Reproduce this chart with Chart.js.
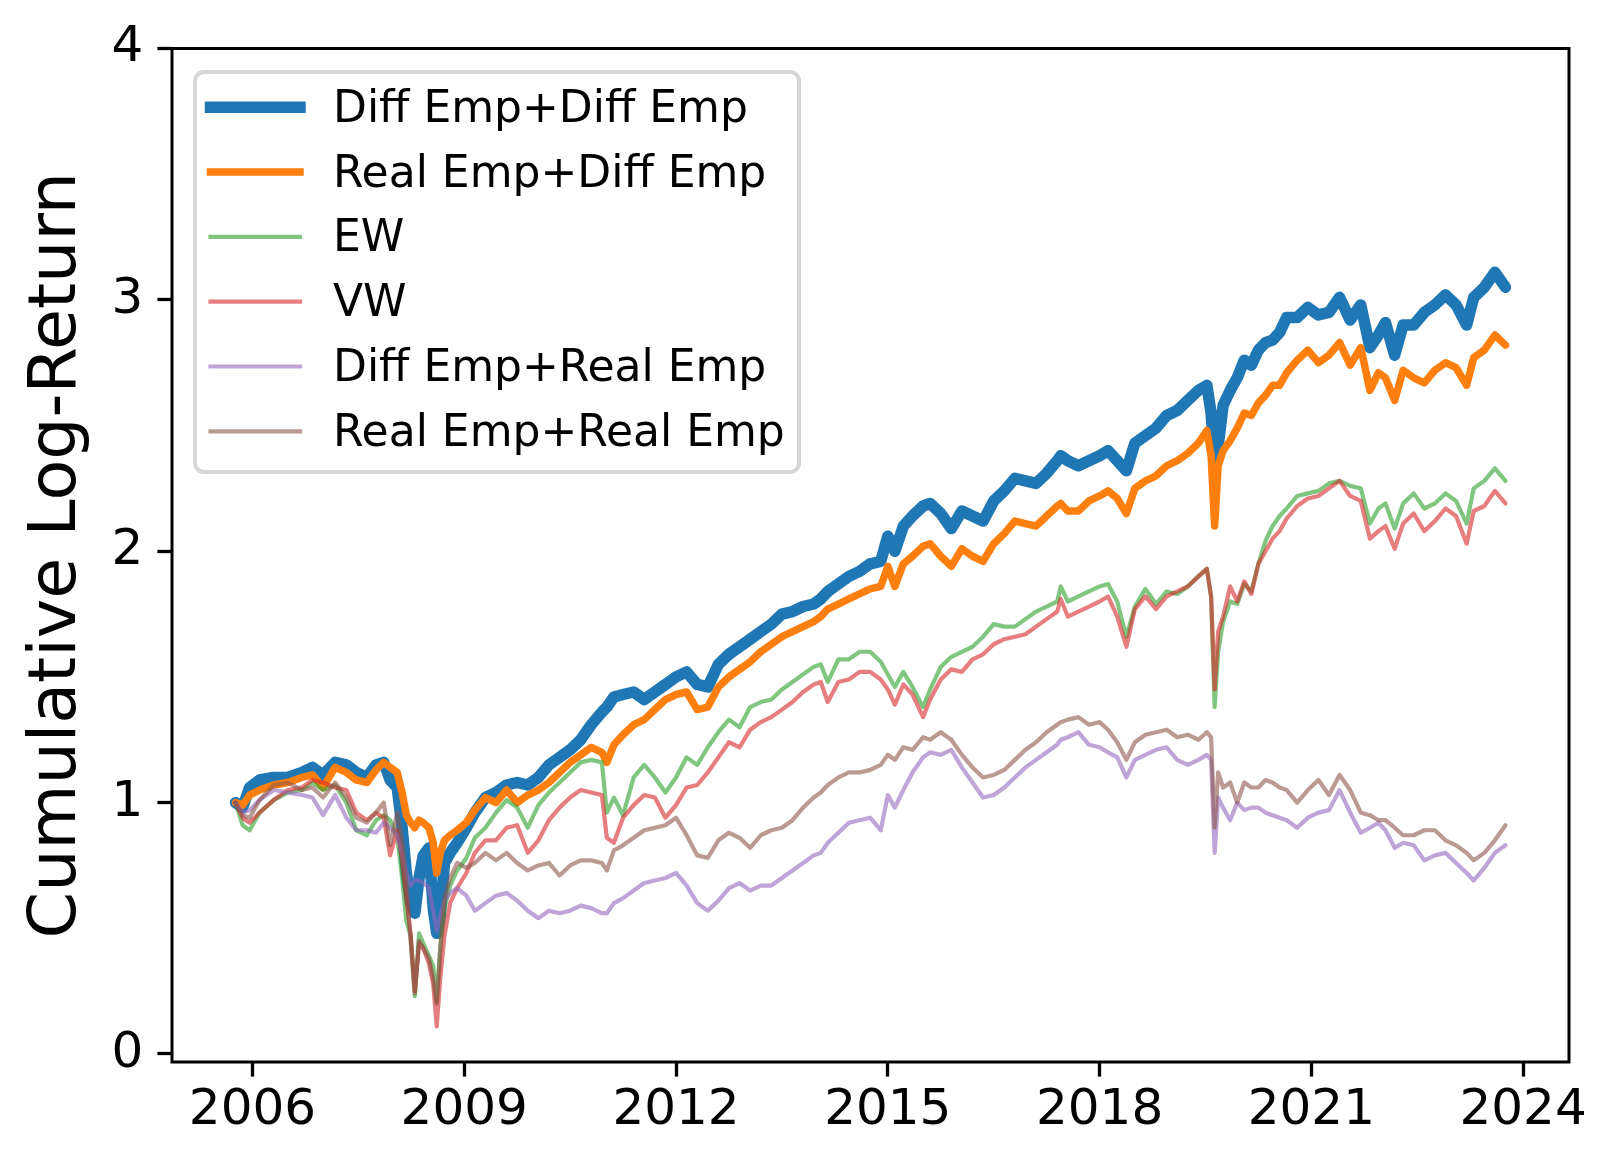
<!DOCTYPE html>
<html><head><meta charset="utf-8">
<script src="https://cdn.jsdelivr.net/npm/chart.js@4.4.1/dist/chart.umd.min.js"></script>
<style>html,body{margin:0;padding:0;background:#fff;}canvas{display:block;}</style>
</head><body>
<canvas id="c" width="1616" height="1170"></canvas>
<script>
const dates = [2005.76,2005.86,2005.96,2006.10,2006.30,2006.50,2006.70,2006.85,2007.00,2007.17,
 2007.33,2007.47,2007.62,2007.75,2007.86,2007.95,2008.05,2008.12,2008.18,2008.24,
 2008.30,2008.36,2008.42,2008.50,2008.56,2008.61,2008.66,2008.72,2008.80,2008.90,
 2009.03,2009.15,2009.30,2009.45,2009.60,2009.75,2009.90,2010.05,2010.20,2010.35,
 2010.50,2010.65,2010.80,2010.95,2011.02,2011.12,2011.25,2011.40,2011.55,2011.70,
 2011.85,2012.00,2012.15,2012.30,2012.45,2012.60,2012.75,2012.90,2013.05,2013.20,
 2013.35,2013.50,2013.65,2013.80,2013.95,2014.05,2014.15,2014.30,2014.45,2014.60,
 2014.75,2014.90,2015.00,2015.10,2015.22,2015.35,2015.50,2015.60,2015.75,2015.90,
 2016.05,2016.20,2016.35,2016.50,2016.65,2016.80,2016.95,2017.10,2017.25,2017.40,
 2017.45,2017.55,2017.70,2017.85,2018.00,2018.12,2018.25,2018.38,2018.50,2018.65,
 2018.80,2018.95,2019.10,2019.25,2019.40,2019.52,2019.58,2019.63,2019.68,2019.75,
 2019.85,2019.95,2020.05,2020.15,2020.25,2020.35,2020.45,2020.55,2020.65,2020.80,
 2020.95,2021.10,2021.25,2021.40,2021.55,2021.70,2021.83,2021.95,2022.05,2022.18,
 2022.30,2022.45,2022.60,2022.75,2022.90,2023.05,2023.20,2023.30,2023.45,2023.60,
 2023.75];

const diffEmpDiffEmp = [1.00,0.98,1.06,1.09,1.10,1.10,1.12,1.14,1.11,1.16,
 1.15,1.12,1.10,1.15,1.16,1.09,1.06,0.90,0.72,0.60,
 0.56,0.70,0.79,0.82,0.58,0.48,0.55,0.76,0.80,0.84,
 0.90,0.96,1.02,1.04,1.07,1.08,1.07,1.10,1.15,1.18,
 1.21,1.25,1.31,1.36,1.38,1.42,1.43,1.44,1.41,1.44,
 1.47,1.50,1.52,1.47,1.46,1.55,1.59,1.62,1.65,1.68,
 1.71,1.75,1.76,1.78,1.79,1.81,1.84,1.87,1.90,1.92,
 1.95,1.96,2.06,2.00,2.10,2.14,2.18,2.19,2.15,2.09,
 2.16,2.14,2.12,2.20,2.24,2.29,2.28,2.27,2.31,2.36,
 2.38,2.36,2.34,2.36,2.38,2.40,2.36,2.32,2.43,2.46,
 2.49,2.54,2.56,2.60,2.64,2.66,2.55,2.36,2.42,2.58,
 2.64,2.69,2.76,2.74,2.80,2.83,2.84,2.87,2.93,2.93,
 2.97,2.94,2.95,3.01,2.92,2.98,2.81,2.86,2.91,2.78,
 2.90,2.90,2.95,2.98,3.02,2.98,2.90,3.01,3.05,3.11,
 3.05];

const realEmpDiffEmp = [1.00,0.99,1.03,1.05,1.07,1.08,1.10,1.11,1.06,1.14,
 1.12,1.09,1.08,1.13,1.16,1.14,1.12,1.04,0.95,0.92,
 0.90,0.93,0.92,0.90,0.84,0.72,0.80,0.85,0.87,0.89,
 0.92,0.97,1.02,1.00,1.05,1.00,1.03,1.05,1.08,1.12,
 1.16,1.19,1.22,1.20,1.16,1.23,1.27,1.31,1.33,1.37,
 1.41,1.43,1.44,1.37,1.38,1.46,1.50,1.53,1.56,1.60,
 1.63,1.66,1.68,1.70,1.72,1.74,1.77,1.79,1.81,1.83,
 1.85,1.86,1.94,1.86,1.95,1.98,2.02,2.03,1.98,1.94,
 2.01,1.98,1.96,2.03,2.07,2.12,2.11,2.10,2.14,2.18,
 2.19,2.16,2.16,2.20,2.22,2.24,2.21,2.15,2.25,2.28,
 2.30,2.34,2.36,2.39,2.43,2.48,2.38,2.10,2.34,2.40,
 2.44,2.49,2.55,2.54,2.59,2.62,2.66,2.66,2.71,2.76,
 2.80,2.75,2.78,2.83,2.74,2.81,2.64,2.71,2.69,2.60,
 2.72,2.69,2.67,2.72,2.75,2.73,2.66,2.77,2.80,2.86,
 2.82];

const ewValues = [1.00,0.91,0.89,0.96,1.01,1.04,1.05,1.08,1.05,1.07,
 1.00,0.89,0.87,0.93,0.95,0.93,0.87,0.70,0.53,0.47,
 0.23,0.48,0.44,0.39,0.35,0.21,0.42,0.58,0.67,0.73,
 0.78,0.86,0.90,0.96,1.01,0.98,0.90,0.99,1.04,1.08,
 1.12,1.16,1.17,1.16,0.96,1.02,0.95,1.10,1.15,1.10,
 1.04,1.10,1.18,1.15,1.22,1.28,1.33,1.30,1.38,1.40,
 1.41,1.45,1.48,1.51,1.54,1.55,1.48,1.57,1.57,1.60,
 1.60,1.56,1.51,1.46,1.52,1.46,1.38,1.45,1.54,1.58,
 1.60,1.62,1.66,1.71,1.70,1.70,1.73,1.76,1.78,1.80,
 1.86,1.80,1.82,1.84,1.86,1.87,1.80,1.66,1.78,1.85,
 1.79,1.84,1.83,1.86,1.90,1.93,1.82,1.38,1.60,1.72,
 1.80,1.79,1.87,1.84,1.95,2.04,2.10,2.14,2.17,2.22,
 2.23,2.24,2.27,2.28,2.26,2.25,2.11,2.17,2.19,2.09,
 2.19,2.23,2.17,2.19,2.23,2.20,2.11,2.25,2.28,2.33,
 2.28];

const vwValues = [1.00,0.94,0.92,0.96,1.01,1.05,1.06,1.09,1.08,1.06,
 1.05,0.96,0.93,0.96,0.94,0.79,0.89,0.78,0.62,0.48,
 0.25,0.44,0.42,0.36,0.28,0.11,0.30,0.47,0.60,0.66,
 0.72,0.80,0.85,0.85,0.90,0.91,0.80,0.85,0.93,0.98,
 1.02,1.05,1.04,1.03,0.86,0.84,0.94,0.99,1.03,1.02,
 0.94,0.99,1.06,1.07,1.12,1.18,1.24,1.22,1.29,1.32,
 1.34,1.37,1.40,1.44,1.47,1.48,1.40,1.48,1.49,1.52,
 1.52,1.49,1.45,1.39,1.47,1.43,1.34,1.41,1.49,1.53,
 1.52,1.57,1.59,1.63,1.65,1.66,1.67,1.70,1.73,1.76,
 1.81,1.74,1.76,1.78,1.80,1.82,1.74,1.62,1.77,1.82,
 1.77,1.82,1.84,1.86,1.90,1.93,1.82,1.45,1.68,1.74,
 1.86,1.80,1.88,1.83,1.95,2.00,2.05,2.08,2.13,2.18,
 2.21,2.22,2.25,2.28,2.22,2.20,2.05,2.08,2.10,2.01,
 2.11,2.15,2.08,2.12,2.17,2.14,2.03,2.16,2.18,2.24,
 2.19];

const diffEmpRealEmp = [1.00,0.96,0.97,1.01,1.05,1.04,1.03,1.02,0.95,1.03,
 0.94,0.89,0.89,0.88,0.92,0.90,0.87,0.80,0.72,0.67,
 0.69,0.69,0.68,0.66,0.57,0.49,0.55,0.61,0.64,0.66,
 0.63,0.57,0.60,0.63,0.64,0.61,0.57,0.54,0.57,0.56,
 0.57,0.59,0.58,0.56,0.56,0.60,0.62,0.65,0.68,0.69,
 0.70,0.72,0.67,0.60,0.57,0.61,0.66,0.68,0.65,0.67,
 0.67,0.70,0.73,0.76,0.79,0.80,0.84,0.88,0.92,0.93,
 0.94,0.89,1.03,0.98,1.05,1.12,1.18,1.20,1.19,1.21,
 1.14,1.08,1.02,1.03,1.06,1.10,1.14,1.17,1.20,1.23,
 1.25,1.26,1.28,1.23,1.22,1.20,1.18,1.10,1.17,1.19,
 1.21,1.22,1.17,1.15,1.17,1.19,1.17,0.80,1.02,0.98,
 0.93,1.00,0.97,0.98,0.98,0.96,0.95,0.94,0.93,0.90,
 0.94,0.96,0.97,1.05,0.96,0.88,0.90,0.92,0.89,0.82,
 0.84,0.83,0.77,0.79,0.80,0.76,0.72,0.69,0.74,0.80,
 0.83];

const realEmpRealEmp = [1.00,0.95,0.94,1.01,1.07,1.08,1.05,1.06,1.02,1.08,
 1.02,0.94,0.92,0.96,1.00,0.83,0.96,0.85,0.68,0.45,
 0.24,0.45,0.42,0.38,0.30,0.20,0.42,0.62,0.70,0.76,
 0.74,0.76,0.80,0.77,0.80,0.76,0.73,0.75,0.76,0.71,
 0.75,0.77,0.77,0.76,0.73,0.81,0.83,0.86,0.89,0.90,
 0.91,0.94,0.87,0.79,0.78,0.85,0.88,0.86,0.82,0.87,
 0.89,0.90,0.93,0.98,1.02,1.04,1.07,1.10,1.12,1.12,
 1.13,1.15,1.19,1.17,1.22,1.21,1.26,1.25,1.28,1.25,
 1.19,1.14,1.10,1.11,1.13,1.17,1.21,1.24,1.28,1.31,
 1.32,1.33,1.34,1.31,1.32,1.29,1.24,1.17,1.24,1.27,
 1.28,1.29,1.26,1.27,1.25,1.28,1.26,0.90,1.12,1.06,
 1.08,1.00,1.08,1.06,1.06,1.09,1.08,1.06,1.05,1.00,
 1.05,1.09,1.03,1.11,1.05,0.96,0.95,0.93,0.93,0.90,
 0.87,0.87,0.89,0.89,0.85,0.83,0.80,0.77,0.80,0.85,
 0.91];

const seriesLabels = ['Diff Emp+Diff Emp','Real Emp+Diff Emp','EW','VW','Diff Emp+Real Emp','Real Emp+Real Emp'];
const xTickYears = [2006,2009,2012,2015,2018,2021,2024];
const yTickValues = [0,1,2,3,4];

const FAMILY = '"DejaVu Sans", "Liberation Sans", sans-serif';
function pts(vals){ return vals.map((v,i)=>({x:dates[i], y:v})); }

function roundRectPath(ctx,x,y,w,h,r){
  ctx.beginPath();
  ctx.moveTo(x+r,y);
  ctx.lineTo(x+w-r,y); ctx.arcTo(x+w,y,x+w,y+r,r);
  ctx.lineTo(x+w,y+h-r); ctx.arcTo(x+w,y+h,x+w-r,y+h,r);
  ctx.lineTo(x+r,y+h); ctx.arcTo(x,y+h,x,y+h-r,r);
  ctx.lineTo(x,y+r); ctx.arcTo(x,y,x+r,y,r);
  ctx.closePath();
}

const mplLegend = {
  id:'mplLegend',
  afterDatasetsDraw(chart){
    const ctx = chart.ctx;
    ctx.save();
    roundRectPath(ctx,195,72,604,400,9);
    ctx.fillStyle='rgba(255,255,255,0.8)'; ctx.fill();
    ctx.lineWidth=4; ctx.strokeStyle='rgba(204,204,204,0.8)'; ctx.stroke();
    chart.data.datasets.forEach((ds,i)=>{
      const y = 107.3 + i*64.8;
      ctx.beginPath(); ctx.moveTo(210.5,y); ctx.lineTo(300,y);
      ctx.strokeStyle=ds.borderColor; ctx.lineWidth=ds.borderWidth; ctx.lineCap='square'; ctx.stroke();
      ctx.fillStyle='#000'; ctx.font='44px '+FAMILY; ctx.textAlign='left'; ctx.textBaseline='alphabetic';
      ctx.fillText(ds.label, 333, y+14.5);
    });
    ctx.restore();
  }
};
const spines = {
  id:'spines',
  afterDraw(chart){
    const {left,right,top,bottom} = chart.chartArea;
    const ctx = chart.ctx;
    ctx.save(); ctx.strokeStyle='#000'; ctx.lineWidth=3; ctx.lineJoin='miter';
    ctx.strokeRect(left,top,right-left,bottom-top); ctx.restore();
  }
};

const gridCfg = {drawOnChartArea:false, drawTicks:true, tickLength:14.6, tickWidth:3.3, tickColor:'#000'};

new Chart(document.getElementById('c'),{
  type:'line',
  data:{datasets:[
    {label:seriesLabels[0], data:pts(diffEmpDiffEmp), borderColor:'#1f77b4', borderWidth:11.5, order:6},
    {label:seriesLabels[1], data:pts(realEmpDiffEmp), borderColor:'#ff7f0e', borderWidth:7.5, order:5},
    {label:seriesLabels[2], data:pts(ewValues), borderColor:'rgba(44,160,44,0.6)', borderWidth:4.2, order:4},
    {label:seriesLabels[3], data:pts(vwValues), borderColor:'rgba(214,39,40,0.6)', borderWidth:4.2, order:3},
    {label:seriesLabels[4], data:pts(diffEmpRealEmp), borderColor:'rgba(148,103,189,0.6)', borderWidth:4.2, order:2},
    {label:seriesLabels[5], data:pts(realEmpRealEmp), borderColor:'rgba(140,86,75,0.6)', borderWidth:4.2, order:1}
  ]},
  options:{
    responsive:false, animation:false, devicePixelRatio:1,
    layout:{padding:{left:0, top:48.5, right:47, bottom:0}},
    elements:{point:{radius:0}, line:{tension:0, borderJoinStyle:'round', borderCapStyle:'round', fill:false}},
    plugins:{legend:{display:false}, tooltip:{enabled:false}},
    scales:{
      x:{type:'linear', min:2004.86, max:2024.65,
        afterBuildTicks(s){ s.ticks = xTickYears.map(v=>({value:v})); },
        afterFit(s){ s.height = 108; },
        ticks:{callback:v=>String(v), font:{family:FAMILY, size:50, lineHeight:1}, color:'#000', padding:9, maxRotation:0, autoSkip:false},
        grid:gridCfg, border:{display:false}},
      y:{type:'linear', min:-0.032, max:4,
        afterBuildTicks(s){ s.ticks = yTickValues.map(v=>({value:v})); },
        afterFit(s){ s.width = 172; },
        ticks:{callback:v=>String(v), font:{family:FAMILY, size:50, lineHeight:1}, color:'#000', padding:14, autoSkip:false},
        grid:gridCfg, border:{display:false},
        title:{display:true, text:'Cumulative Log-Return', color:'#000', font:{family:FAMILY, size:66.7, lineHeight:1}, padding:{top:24, bottom:0}}}
    }
  },
  plugins:[mplLegend, spines]
});
</script>
</body></html>
